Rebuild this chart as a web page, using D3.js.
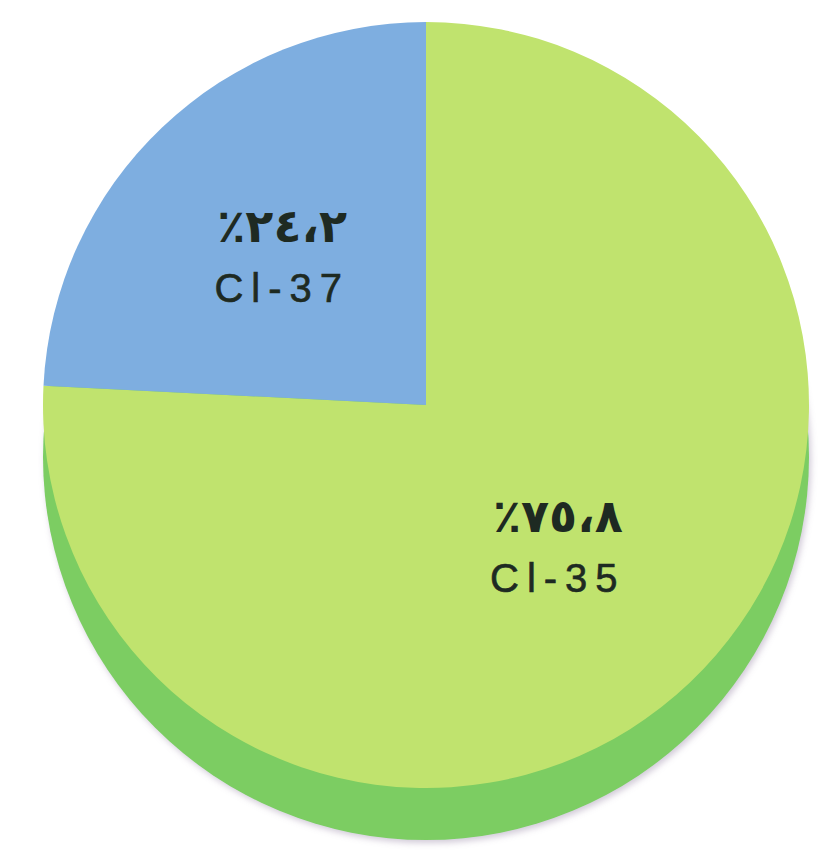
<!DOCTYPE html>
<html>
<head>
<meta charset="utf-8">
<script src="https://cdn.jsdelivr.net/npm/d3@7"></script>
<style>
  body { margin: 0; background: #fff; }
</style>
</head>
<body>
<div id="chart"></div>
<script>
var width = 818,
  height = 850,
  cx = 426,
  cy = 405,
  radius = 383,
  depth = 52;

// data
const isotopes = ['Cl-35', 'Cl-37']
const shares = [75.8, 24.2]
const colors = ['#c0e36e', '#7eaee0']
const sideColor = '#7ccd62'

const arabicDigits = '٠١٢٣٤٥٦٧٨٩'
function toArabic (v) {
  return String(v).replace(/\d/g, d => arabicDigits[+d]).replace('.', '،') + '٪'
}

var svg = d3.select("#chart").append("svg")
  .attr("width", width)
  .attr("height", height)

var defs = svg.append("defs")
var filter = defs.append("filter").attr("id", "soft")
  .attr("x", "-10%").attr("y", "-10%").attr("width", "120%").attr("height", "120%")
filter.append("feDropShadow")
  .attr("dx", 2).attr("dy", 3)
  .attr("stdDeviation", 3)
  .attr("flood-color", "#9a8aa8")
  .attr("flood-opacity", 0.45)

var g = svg.append("g")
  .attr("transform", "translate(" + cx + "," + cy + ")")

// side of the disc, simply the same circle pushed down
g.append("circle")
  .attr("cx", 0)
  .attr("cy", depth)
  .attr("r", radius)
  .attr("fill", sideColor)
  .attr("filter", "url(#soft)")

var pie = d3.pie().sort(null)
var arc = d3.arc().innerRadius(0).outerRadius(radius)
var labelArc = d3.arc().innerRadius(200).outerRadius(200)

var slices = pie(shares)

g.selectAll("path.slice")
  .data(slices)
  .enter().append("path")
    .attr("class", "slice")
    .attr("d", arc)
    .attr("fill", (d, i) => colors[i])

var labels = g.selectAll("g.label")
  .data(slices)
  .enter().append("g")
    .attr("class", "label")
    .attr("transform", d => {
      const c = labelArc.centroid(d)
      return "translate(" + (c[0] - 6) + "," + c[1] + ")"
    })

labels.append("text")
  .attr("y", -18)
  .attr("text-anchor", "middle")
  .attr("direction", "rtl")
  .attr("font-family", "DejaVu Sans")
  .attr("font-weight", "bold")
  .attr("font-size", 46)
  .attr("letter-spacing", 7)
  .attr("fill", "#1e2a22")
  .text((d, i) => toArabic(shares[i]))

labels.append("text")
  .attr("y", 42)
  .attr("text-anchor", "middle")
  .attr("font-family", "Liberation Sans, Arial, sans-serif")
  .attr("font-size", 40)
  .attr("letter-spacing", 8)
  .attr("stroke", "#1e2a22")
  .attr("stroke-width", 0.6)
  .attr("fill", "#1e2a22")
  .text((d, i) => isotopes[i])
</script>
</body>
</html>
